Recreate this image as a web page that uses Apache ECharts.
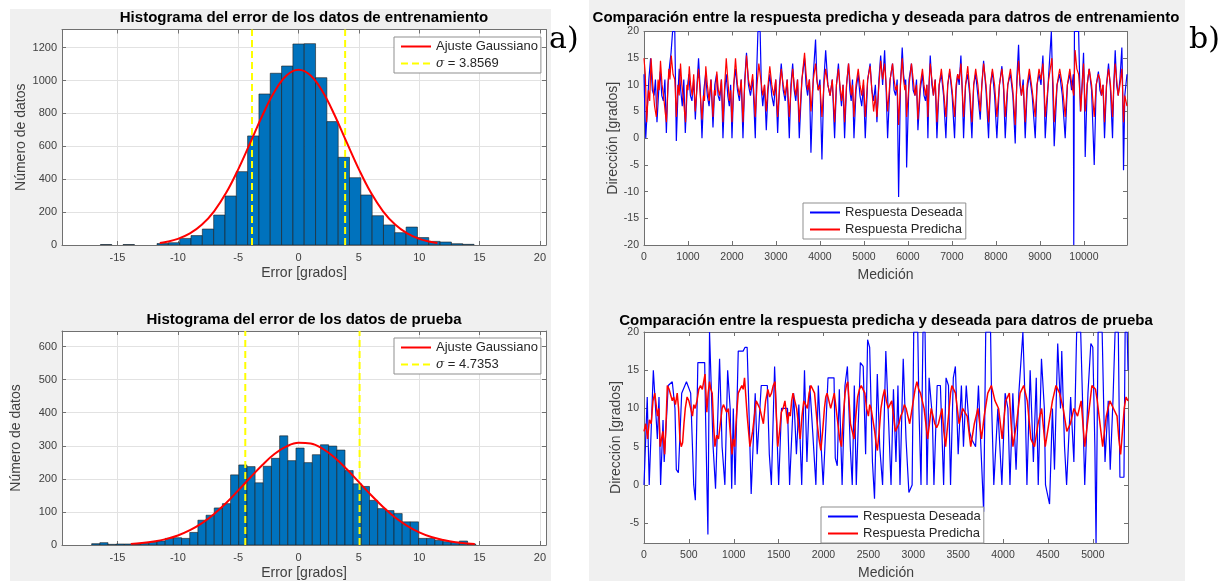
<!DOCTYPE html>
<html><head><meta charset="utf-8">
<script src="https://cdn.jsdelivr.net/npm/echarts@6/dist/echarts.min.js"></script>
<style>
html,body{margin:0;padding:0;background:#fff;}
#wrap{position:relative;width:1222px;height:581px;overflow:hidden;background:#fff;}
.panel{position:absolute;background:#f0f0f0;}
#c{position:absolute;left:0;top:0;width:1222px;height:581px;}
</style>
</head><body>
<div id="wrap">
<div class="panel" style="left:10px;top:9px;width:541px;height:572px;"></div>
<div class="panel" style="left:589px;top:0px;width:596px;height:581px;"></div>
<div id="c"></div>
</div>
<script>
// ---------------- DATA ----------------
const trainBinStart = -16.415;
const trainBinWidth = 0.938;
const trainCounts = [3,0,3,0,0,9,14,40,57,97,182,298,446,663,918,1044,1088,1222,1224,1017,750,533,409,304,178,122,75,109,45,22,18,8,4];
const trainFitX = [-11.5,-11,-10,-9,-8,-7,-6,-5,-4,-3,-2,-1,0,1,2,3,4,5,6,7,8,9,10,11,11.5];
const trainFitY = [12.5,18,37,70,124,205,317,460,622,787,931,1030,1065,1030,931,787,622,460,317,205,124,70,37,18,12.5];
const trainSigmaLines = [-3.857, 3.857];

const testBinStart = -17.141;
const testBinWidth = 0.677;
const testCounts = [4,7,2,3,3,3,5,8,12,20,22,20,38,75,90,112,125,212,242,237,188,238,262,330,255,293,249,273,303,299,287,225,185,177,135,110,104,95,70,70,20,20,14,10,8,12,3];
const testFitX = [-13.9,-13,-12,-11,-10,-9,-8,-7,-6,-5,-4,-3,-2,-1,0,1,2,3,4,5,6,7,8,9,10,11,12,13,14,14.6];
const testFitY = [3.4,5.9,10.5,17.8,28.8,44.7,66,94,127,165,204,242,275,298,309,307,291,264,229,190,151,115,83,58,38,24,15,8.6,4.8,3.3];
const testSigmaLines = [-4.415, 5.055];

const trainDesired = [[0,12],[20,5],[40,0],[70,0],[110,11],[150,15],[190,9],[230,8],[260,11],[295,3],[335,9],[370,12.5],[405,8],[440,7],[475,11],[508,1],[545,10],[580,13.5],[615,16],[650,20],[700,20],[735,-0.5],[770,8],[800,13],[835,9],[870,6],[905,11],[939,1],[980,9],[1020,12],[1055,8],[1090,7],[1130,11],[1167,3.5],[1205,10],[1240,15],[1280,9],[1318,0],[1360,9],[1400,12],[1440,8],[1480,6],[1525,11],[1568,2],[1610,10],[1650,12],[1685,8],[1720,7],[1760,11],[1795,0],[1835,9],[1870,12],[1905,8],[1940,6],[1970,10],[2000,0],[2040,10],[2080,13],[2125,9],[2170,7],[2210,11],[2250,0],[2290,11],[2330,16],[2375,10],[2420,8],[2475,11],[2530,0],[2560,12],[2590,20],[2640,20],[2670,9],[2700,6],[2740,10],[2780,1.5],[2820,9],[2860,12],[2905,8],[2950,6],[2995,11],[3038,1],[3080,10],[3120,14],[3165,9],[3210,7],[3255,11],[3303,0],[3340,10],[3380,14],[3415,9],[3450,7],[3490,11],[3530,0],[3590,11],[3650,15],[3685,10],[3720,8],[3760,11],[3795,-2.7],[3850,12],[3900,18.5],[3930,11],[3960,9],[4000,11],[4045,-4],[4090,11],[4130,16.5],[4180,10],[4230,8],[4280,11],[4333,0],[4375,10],[4420,14],[4455,9],[4490,6],[4525,10],[4560,0],[4605,10],[4650,14],[4680,9],[4710,7],[4740,11],[4773,0],[4820,9],[4870,12],[4910,8],[4950,6],[4990,10],[5030,0],[5085,11],[5140,14],[5180,9],[5220,7],[5260,10],[5295,3],[5340,11],[5380,15.5],[5425,10],[5470,16.5],[5505,9],[5538,0],[5595,11],[5650,14],[5685,9],[5720,8],[5755,11],[5788,-11],[5830,10],[5870,17],[5900,12],[5930,10],[5950,11],[5970,-5.5],[6025,11],[6080,14],[6120,9],[6160,8],[6195,11],[6227,1.5],[6280,9],[6330,12],[6365,8],[6400,7],[6430,10],[6454,0],[6480,10],[6507,15.5],[6545,10],[6580,8],[6620,11],[6659,0],[6710,10],[6760,12],[6810,8],[6863,0],[6905,10],[6950,12.5],[7005,8],[7060,0],[7095,9],[7130,12],[7165,10],[7204,15.5],[7235,9],[7265,0],[7310,10],[7360,12],[7405,8],[7454,0],[7495,10],[7540,12],[7590,8],[7644,3.5],[7680,10],[7720,14.5],[7775,9],[7833,0],[7875,10],[7920,12.5],[7970,8],[8022,0],[8080,10],[8136,13.5],[8175,9],[8212,0],[8270,10],[8330,12],[8385,8],[8439,-1],[8475,11],[8515,17.5],[8545,10],[8580,8],[8620,11],[8666,0],[8710,9],[8760,12],[8825,8],[8894,0],[8935,10],[8980,12],[9025,10],[9068,15.5],[9095,9],[9121,0],[9200,12],[9260,20],[9300,20],[9325,-1.5],[9390,10],[9450,12],[9510,8],[9575,0],[9625,10],[9680,12],[9720,9],[9760,12],[9770,-20],[9785,20],[9880,20],[9920,5],[9960,10],[9992,16],[10010,9],[10030,-3.5],[10075,10],[10120,13],[10175,9],[10235,-5],[10280,10],[10330,12.5],[10365,9],[10400,8],[10435,10],[10469,0],[10515,10],[10560,14],[10605,9],[10651,0],[10680,10],[10712,16.5],[10745,10],[10780,8],[10820,11],[10863,17],[10880,10],[10901,-6],[10930,8],[10955,10],[10980,12]];
const trainPredicted = [[0,15],[30,12],[60,3],[100,9],[130,7],[160,15],[200,10],[240,6],[280,4],[320,11],[345,9],[375,14.5],[410,10],[445,8],[480,5],[510,3],[540,9],[565,13],[590,11],[620,15.5],[660,12],[700,11],[735,4],[770,10],[800,8],[830,14],[860,10],[890,8],[920,5],[945,3],[975,10],[1000,9],[1030,13.5],[1060,10],[1095,8],[1130,12],[1165,5],[1200,9],[1240,13],[1280,8],[1318,3.5],[1350,8],[1375,7],[1405,13.5],[1440,10],[1480,7],[1520,11],[1568,4],[1600,9],[1625,8],[1655,12.5],[1690,9],[1720,8],[1760,11],[1795,3],[1835,10],[1870,15],[1905,11],[1940,7],[1970,9],[2000,3],[2040,10],[2080,15],[2125,10],[2170,8],[2210,11],[2250,3],[2290,10],[2330,15.5],[2375,11],[2420,9],[2470,12],[2530,4],[2570,10],[2610,14],[2655,11],[2700,8],[2740,10],[2780,5],[2820,10],[2860,13.5],[2905,10],[2950,8],[2995,11],[3038,4],[3080,9],[3120,13],[3165,10],[3210,8],[3255,11],[3303,4],[3340,9],[3380,13],[3415,10],[3450,8],[3490,11],[3530,3],[3590,11],[3650,16],[3685,12],[3720,9],[3760,11],[3795,5],[3850,11],[3900,14],[3930,11],[3960,9],[4000,10],[4045,4],[4090,10],[4130,13],[4180,10],[4230,8],[4280,11],[4333,3],[4375,10],[4420,13],[4455,10],[4490,7],[4525,10],[4560,3],[4605,10],[4650,14],[4680,11],[4710,8],[4740,10],[4773,4],[4820,10],[4870,13],[4910,10],[4950,8],[4990,11],[5030,4],[5085,11],[5140,13.5],[5180,9],[5220,5],[5260,8],[5295,4],[5340,10],[5380,14.5],[5425,11],[5470,14],[5505,10],[5538,5],[5595,11],[5650,14],[5685,11],[5720,9],[5755,10],[5788,2.5],[5830,10],[5870,15],[5900,11],[5930,9],[5950,10],[5970,4],[6025,10],[6080,14],[6120,11],[6160,8],[6195,10],[6227,3.5],[6280,10],[6330,13],[6365,10],[6400,8],[6430,10],[6454,4],[6480,10],[6507,14],[6545,11],[6580,8],[6620,11],[6659,3],[6710,10],[6760,13],[6810,9],[6863,4],[6905,10],[6950,13],[7005,9],[7060,4],[7095,10],[7130,12],[7165,11],[7204,14],[7235,9],[7265,4],[7310,10],[7360,13.5],[7405,9],[7454,3],[7495,10],[7540,13],[7590,10],[7644,5],[7680,10],[7720,14],[7775,10],[7833,3],[7875,10],[7920,13],[7970,10],[8022,4],[8080,10],[8136,13],[8175,10],[8212,4],[8270,10],[8330,13],[8385,9],[8439,2.5],[8475,10],[8515,14.5],[8545,11],[8580,8],[8620,10],[8666,3],[8710,10],[8760,13],[8825,9],[8894,4],[8935,10],[8980,13],[9025,11],[9068,14],[9095,10],[9121,4],[9200,11],[9272,15],[9300,10],[9325,3],[9390,10],[9450,13],[9510,10],[9575,4],[9625,10],[9680,13],[9725,10],[9770,8],[9800,16.5],[9840,13],[9880,12],[9905,9],[9930,5],[9960,10],[9992,14],[10010,10],[10030,5],[10075,10],[10120,13],[10175,10],[10235,4],[10280,10],[10330,12],[10365,11],[10400,8],[10435,10],[10469,3],[10515,10],[10560,13],[10605,10],[10651,4],[10680,10],[10712,14],[10745,11],[10780,8],[10820,10],[10863,13],[10880,9],[10901,3],[10930,8],[10955,7],[10980,6]];

const testDesired = [[0,0],[20,0],[36,11.5],[58,0],[104,15],[126,15],[149,6],[167,11.5],[185,0],[212,8.5],[225,3],[270,13],[315,13.5],[345,10],[360,2],[383,1.6],[420,12],[473,13.5],[520,12],[554,0],[572,-2],[600,16],[676,16],[685,9.5],[712,-6.5],[730,20],[752,20],[770,5],[797,-0.5],[842,16.5],[870,5],[901,0],[932,15],[960,10],[977,-0.5],[995,10],[1014,0],[1050,17.5],[1104,17.5],[1126,18],[1149,18],[1171,9],[1194,-1.2],[1239,12],[1261,4],[1306,13],[1374,13],[1396,4],[1419,0],[1455,15.5],[1478,8],[1500,0],[1532,10],[1599,10],[1622,0],[1667,12],[1698,4],[1725,10.5],[1757,0],[1788,15],[1815,3],[1847,13],[1879,7],[1915,0],[1942,13],[1969,6],[1996,0],[2050,14],[2117,14],[2131,3.5],[2153,2.5],[2176,12.5],[2207,0],[2239,13],[2266,15.5],[2298,5],[2320,0],[2343,13],[2365,0],[2410,16],[2442,15.5],[2469,4],[2491,19],[2514,18],[2545,3],[2568,-1.8],[2599,14.5],[2626,5],[2658,0],[2694,17.5],[2726,8],[2752,0],[2779,12.5],[2807,3],[2829,13],[2852,0],[2888,16.5],[2919,6],[2951,-1],[2987,0],[3005,20],[3050,20],[3063,10],[3086,0],[3108,20],[3131,20],[3153,0],[3176,14],[3212,9],[3230,0],[3266,13],[3302,13],[3338,0],[3365,14],[3392,13],[3415,0],[3446,14],[3469,15.5],[3500,4],[3536,13],[3559,5],[3590,13],[3626,7],[3649,6],[3694,5],[3726,13],[3753,5],[3784,-3.5],[3807,20],[3861,20],[3874,10],[3897,0],[3942,10],[3987,0],[4023,12],[4054,10],[4077,0],[4109,12],[4145,2],[4176,12],[4221,20],[4248,10],[4266,0],[4302,15],[4338,3],[4370,14],[4392,0],[4428,16.5],[4460,10],[4473,0],[4518,-2.5],[4550,10],[4573,2],[4609,18.5],[4640,10],[4654,17.5],[4685,5],[4708,0],[4753,11.5],[4789,3],[4820,20],[4865,20],[4888,10],[4910,0],[4946,12],[4978,18.5],[5000,18],[5023,5],[5036,-7.6],[5059,20],[5104,20],[5122,10],[5136,3],[5172,11],[5194,2],[5226,11.5],[5248,20],[5284,20],[5302,1],[5347,1],[5360,20],[5383,20],[5392,15]];
const testPredicted = [[0,7],[20,8],[40,6],[60,8.5],[80,8],[100,11],[120,12],[135,10.5],[150,9],[165,10],[180,5],[195,6],[210,7],[230,4],[245,8],[260,13],[280,12.5],[300,12.5],[315,11],[330,11.5],[350,10.5],[370,12],[385,10],[400,6],[415,5],[430,5.5],[445,8],[460,10],[480,11.5],[500,11],[520,10],[540,9],[555,10.5],[570,10],[590,11],[610,12.5],[630,13],[650,12.5],[665,13.5],[680,14.5],[690,12],[700,9.5],[715,12],[730,13.5],[745,12.5],[760,12],[775,8],[790,5],[810,6.5],[830,6],[850,8],[870,10],[885,10.5],[900,10.5],[920,9.5],[940,10],[960,7],[980,4],[995,6],[1010,5],[1030,9],[1050,12],[1070,12.5],[1090,13],[1105,12.5],[1120,14],[1135,11.5],[1150,9],[1165,7],[1180,5],[1195,6],[1210,7],[1230,9],[1250,11],[1270,10.5],[1290,10],[1310,9],[1330,8],[1355,11],[1380,12.5],[1400,11.5],[1420,12],[1440,13],[1460,13.5],[1475,9],[1490,5],[1510,7],[1530,9.5],[1550,10],[1570,11],[1585,9.5],[1600,8],[1615,9.5],[1630,9],[1645,11],[1660,12],[1680,11],[1700,10],[1720,8],[1740,6],[1760,9],[1780,11],[1800,10.5],[1820,10],[1840,12],[1860,13],[1880,13],[1900,12],[1915,10],[1930,8],[1950,6],[1970,4.5],[1990,7],[2010,10],[2025,11.5],[2040,12],[2060,11],[2080,10],[2100,11],[2120,12],[2140,10],[2160,8],[2180,6],[2200,5],[2220,9],[2240,12],[2255,13],[2270,13.5],[2285,11],[2300,8],[2320,7],[2340,6],[2360,9],[2380,11.5],[2400,12.5],[2420,13],[2440,12.5],[2460,12],[2480,10],[2500,9],[2515,10.5],[2530,10],[2550,8.5],[2570,7],[2585,5.5],[2600,4.5],[2620,7],[2640,10],[2660,11.5],[2680,12.5],[2700,11],[2720,10],[2740,10.5],[2760,11],[2780,9],[2800,7],[2820,7.5],[2840,8],[2860,9],[2880,9.5],[2900,10.5],[2920,10],[2940,9],[2960,8],[2980,9.5],[3000,11],[3020,12.5],[3040,13.5],[3060,12.5],[3080,12],[3100,11],[3120,10],[3140,8],[3160,6],[3180,8],[3200,10],[3220,9],[3240,8],[3260,7.5],[3280,8],[3300,9],[3320,10],[3340,7],[3360,5],[3380,7.5],[3400,10],[3415,12],[3430,13],[3450,12.5],[3470,12],[3490,10],[3510,8],[3530,9],[3550,10],[3575,9.5],[3600,9],[3620,7],[3640,5],[3660,6.5],[3680,8],[3700,9],[3720,10],[3740,8],[3760,6],[3775,7.5],[3790,9],[3810,10.5],[3830,12],[3850,12.5],[3870,13],[3890,12],[3910,11],[3930,10.5],[3950,10],[3970,8],[3990,6],[4010,8.5],[4030,11],[4050,11.5],[4070,12],[4090,8],[4110,5],[4130,6.5],[4150,8],[4170,10],[4190,12],[4210,12.5],[4230,13],[4250,12],[4270,11],[4290,8.5],[4310,6],[4330,5.5],[4350,5],[4370,6.5],[4390,8],[4410,9],[4430,10],[4450,7.5],[4470,5],[4490,6.5],[4510,8],[4530,9.5],[4550,11],[4570,12],[4590,13],[4610,12.5],[4630,12],[4650,11],[4670,10],[4690,8.5],[4710,7],[4730,7.5],[4750,8],[4770,9],[4790,10],[4810,9.5],[4830,9],[4850,10],[4870,11],[4890,8],[4910,5],[4930,7],[4950,9],[4970,11],[4990,13],[5010,13],[5030,12.5],[5050,11],[5070,9],[5090,7],[5110,5],[5130,7],[5150,9],[5170,10],[5190,11],[5210,10.5],[5230,10],[5250,9.5],[5270,9],[5290,6],[5310,4],[5330,7],[5350,10],[5370,11.5],[5392,11]];

const histXRange = [-19.6, 20.5];
const trainHistYMax = 1310;
const testHistYMax = 647;
const trainSeriesX = [0, 10980];
const trainSeriesY = [-20, 20];
const testSeriesX = [0, 5392];
const testSeriesY = [-7.6, 20];

const titles = [
  'Histograma del error de los datos de entrenamiento',
  'Histograma del error de los datos de prueba',
  'Comparación entre la respuesta predicha y deseada para datros de entrenamiento',
  'Comparación entre la respuesta predicha y deseada para datros de prueba'
];
const sigmaNames = ['σ = 3.8569', 'σ = 4.7353'];

// ---------------- CHART ----------------
const FONT = "'Liberation Sans', Arial, Helvetica, sans-serif";
const AXC = '#707070';
const TXT = '#404040';

const grids = [
  {left: 62, top: 29.5, width: 484, height: 215.5},
  {left: 62, top: 331, width: 484, height: 216},
  {left: 644, top: 31.5, width: 483, height: 213.5},
  {left: 644, top: 332, width: 484, height: 215}
].map(g => Object.assign({show: true, backgroundColor: '#fff', borderWidth: 0}, g));

function stepFmt(step) {
  return v => {
    const r = v / step;
    return Math.abs(r - Math.round(r)) < 1e-6 ? String(Math.round(v)) : '';
  };
}

const xAxes = [], yAxes = [];
function addAxes(gi, xr, yr, xOpt, yOpt, xName, yName, xGap, yGap, gridLines, fs) {
  const common = {
    type: 'value', gridIndex: gi,
    axisLine: {show: true, onZero: false, lineStyle: {color: AXC, width: 1}},
    axisTick: {show: true, inside: true, length: 4, lineStyle: {color: AXC}},
    splitLine: {show: gridLines, lineStyle: {color: '#e2e2e2', width: 1}}
  };
  const nts = {fontSize: 14, color: TXT, fontFamily: FONT};
  xAxes.push(Object.assign({}, common, xOpt, {
    min: xr[0], max: xr[1], position: 'bottom',
    name: xName, nameLocation: 'middle', nameGap: xGap, nameTextStyle: nts,
    axisLabel: {fontSize: fs, color: TXT, fontFamily: FONT, margin: 7, formatter: stepFmt(xOpt.step)}
  }));
  xAxes.push(Object.assign({}, common, xOpt, {
    min: xr[0], max: xr[1], position: 'top', splitLine: {show: false}, axisLabel: {show: false}
  }));
  yAxes.push(Object.assign({}, common, yOpt, {
    min: yr[0], max: yr[1], position: 'left',
    name: yName, nameLocation: 'middle', nameGap: yGap, nameTextStyle: nts,
    axisLabel: {fontSize: fs, color: TXT, fontFamily: FONT, margin: 5, formatter: stepFmt(yOpt.step)}
  }));
  yAxes.push(Object.assign({}, common, yOpt, {
    min: yr[0], max: yr[1], position: 'right', splitLine: {show: false}, axisLabel: {show: false}
  }));
}
addAxes(0, histXRange, [0, trainHistYMax], {splitNumber: 8, step: 5}, {splitNumber: 6, step: 200}, 'Error [grados]', 'Número de datos', 21, 33, true, 11);
addAxes(1, histXRange, [0, testHistYMax], {splitNumber: 8, step: 5}, {splitNumber: 6, step: 100}, 'Error [grados]', 'Número de datos', 21, 39, true, 11);
addAxes(2, trainSeriesX, trainSeriesY, {interval: 1000, step: 1000}, {interval: 5, step: 5}, 'Medición', 'Dirección [grados]', 23, 22, false, 10.5);
addAxes(3, testSeriesX, testSeriesY, {interval: 500, step: 500}, {splitNumber: 5, step: 5}, 'Medición', 'Dirección [grados]', 23, 21, false, 10.5);
[...xAxes, ...yAxes].forEach(a => { delete a.step; });

function histSeries(gi, start, width, counts) {
  const data = [];
  counts.forEach((c, i) => { if (c > 0) data.push([start + i * width, start + (i + 1) * width, c]); });
  return {
    type: 'custom', name: 'hist' + gi, xAxisIndex: gi * 2, yAxisIndex: gi * 2, clip: true, z: 2,
    data, encode: {x: [0, 1], y: 2}, silent: true,
    renderItem: (params, api) => {
      const p0 = api.coord([api.value(0), api.value(2)]);
      const p1 = api.coord([api.value(1), 0]);
      return {type: 'rect', shape: {x: p0[0], y: p0[1], width: p1[0] - p0[0], height: p1[1] - p0[1]},
        style: {fill: '#0072BD', stroke: '#1c1c1c', lineWidth: 0.6}};
    }
  };
}
function fitSeries(gi, xs, ys) {
  return {type: 'line', name: 'Ajuste Gaussiano', xAxisIndex: gi * 2, yAxisIndex: gi * 2,
    data: xs.map((x, i) => [x, ys[i]]), smooth: 0.4, symbol: 'none', showSymbol: false, z: 4, silent: true,
    lineStyle: {color: '#FF0000', width: 2}, itemStyle: {color: '#FF0000'}};
}
function sigmaSeries(gi, name, x, ymax) {
  return {type: 'line', name, xAxisIndex: gi * 2, yAxisIndex: gi * 2,
    data: [[x, 0], [x, ymax]], symbol: 'none', showSymbol: false, z: 3, silent: true,
    lineStyle: {color: '#FFFF00', width: 2, type: [7, 4]}, itemStyle: {color: '#FFFF00'}};
}
function tsSeries(gi, name, data, color, z, w) {
  return {type: 'line', name, xAxisIndex: gi * 2, yAxisIndex: gi * 2, data, symbol: 'none', showSymbol: false,
    z, silent: true, lineStyle: {color, width: w}, itemStyle: {color}, clip: true};
}

const series = [
  histSeries(0, trainBinStart, trainBinWidth, trainCounts),
  fitSeries(0, trainFitX, trainFitY),
  sigmaSeries(0, sigmaNames[0], trainSigmaLines[0], trainHistYMax),
  sigmaSeries(0, sigmaNames[0] + ' ', trainSigmaLines[1], trainHistYMax),
  histSeries(1, testBinStart, testBinWidth, testCounts),
  fitSeries(1, testFitX, testFitY),
  sigmaSeries(1, sigmaNames[1], testSigmaLines[0], testHistYMax),
  sigmaSeries(1, sigmaNames[1] + ' ', testSigmaLines[1], testHistYMax),
  tsSeries(2, 'Respuesta Deseada', trainDesired, '#0000FF', 2, 1.2),
  tsSeries(2, 'Respuesta Predicha', trainPredicted, '#FF0000', 3, 1.2),
  tsSeries(3, 'Respuesta Deseada', testDesired, '#0000FF', 2, 1.2),
  tsSeries(3, 'Respuesta Predicha', testPredicted, '#FF0000', 3, 1.5)
];

function legend(left, top, data) {
  return {
    left, top, orient: 'vertical', data, selectedMode: false,
    itemWidth: 30, itemHeight: 10, itemGap: 4, padding: [3, 3, 3, 6],
    backgroundColor: '#fff', borderColor: '#8f8f8f', borderWidth: 1, borderRadius: 0,
    itemStyle: {opacity: 0},
    textStyle: {fontSize: 13, color: '#262626', fontFamily: FONT,
      rich: {i: {fontStyle: 'italic', fontFamily: "'DejaVu Serif', serif", fontSize: 12, color: '#262626'}}},
    formatter: n => n.charAt(0) === 'σ' ? '{i|σ}' + n.slice(1) : n
  };
}

const TF = 'bold 15px ' + FONT;
const graphic = [
  {type: 'text', x: 304, y: 18, style: {text: titles[0], font: TF, fill: '#000', align: 'center', verticalAlign: 'middle'}},
  {type: 'text', x: 304, y: 320, style: {text: titles[1], font: TF, fill: '#000', align: 'center', verticalAlign: 'middle'}},
  {type: 'text', x: 886, y: 18, style: {text: titles[2], font: TF, fill: '#000', align: 'center', verticalAlign: 'middle'}},
  {type: 'text', x: 886, y: 321, style: {text: titles[3], font: TF, fill: '#000', align: 'center', verticalAlign: 'middle'}},
  {type: 'text', x: 549, y: 40, style: {text: 'a)', font: "30px 'DejaVu Serif', serif", fill: '#000', align: 'left', verticalAlign: 'middle'}},
  {type: 'text', x: 1189, y: 40, style: {text: 'b)', font: "30px 'DejaVu Serif', serif", fill: '#000', align: 'left', verticalAlign: 'middle'}}
];

const chart = echarts.init(document.getElementById('c'), null, {renderer: 'canvas'});
chart.setOption({
  backgroundColor: 'transparent',
  animation: false,
  grid: grids,
  xAxis: xAxes,
  yAxis: yAxes,
  legend: [
    legend(394, 37, ['Ajuste Gaussiano', sigmaNames[0]]),
    legend(394, 338, ['Ajuste Gaussiano', sigmaNames[1]]),
    legend(803, 203, ['Respuesta Deseada', 'Respuesta Predicha']),
    legend(821, 507, ['Respuesta Deseada', 'Respuesta Predicha'])
  ],
  graphic,
  series
});
</script>
</body></html>
